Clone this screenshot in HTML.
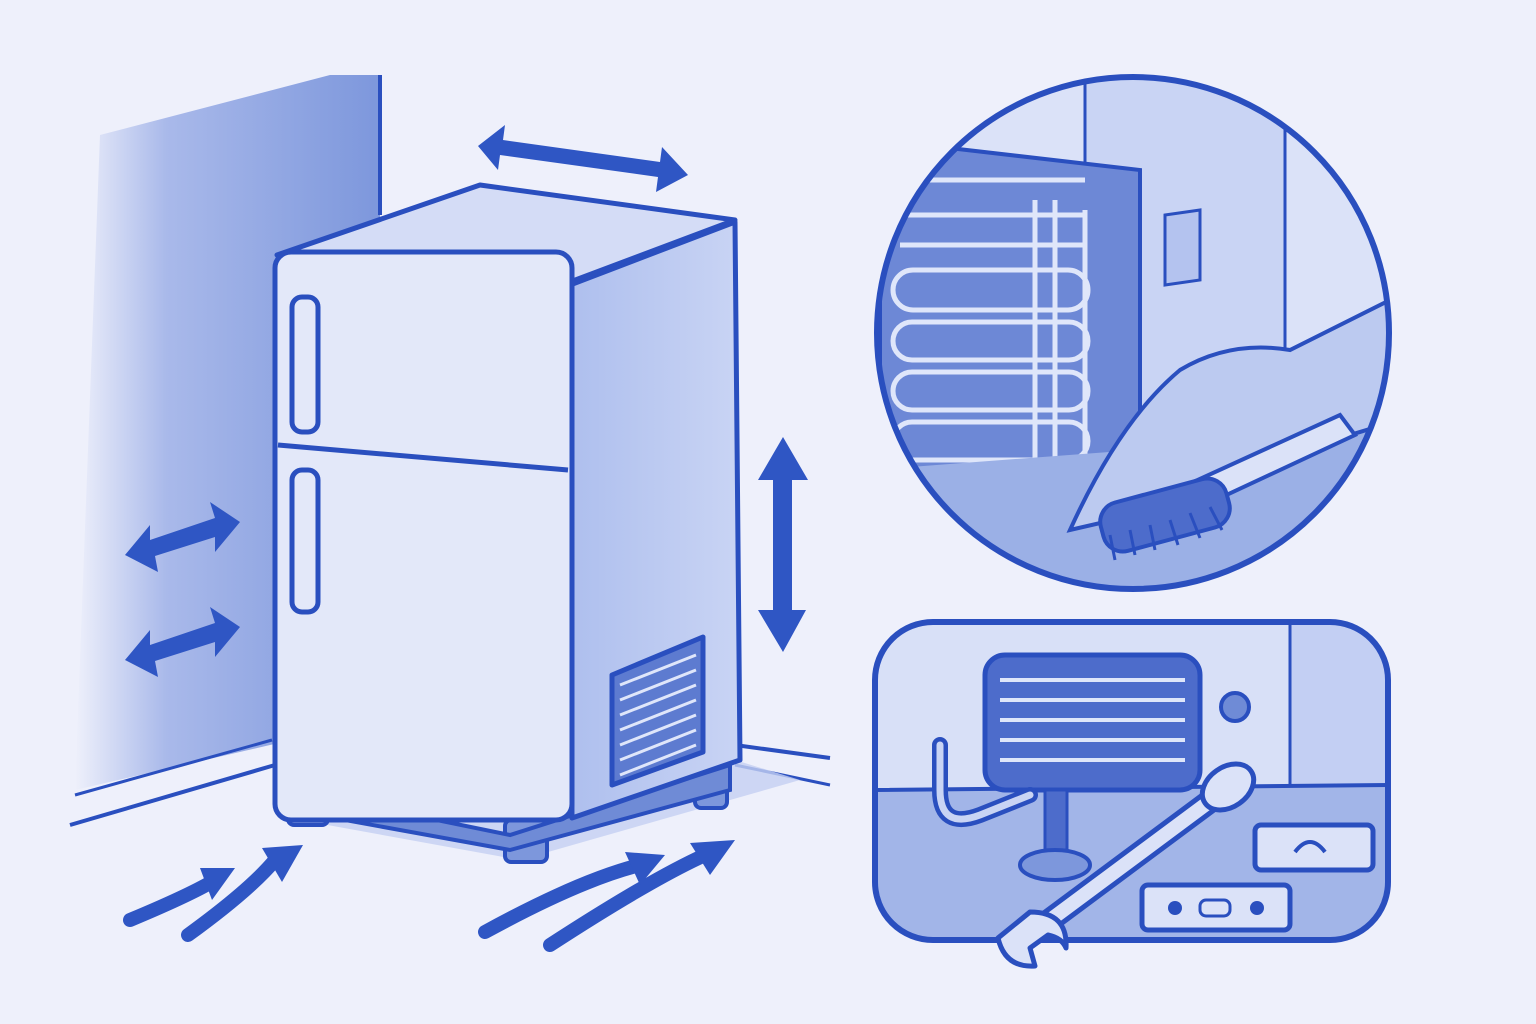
<!DOCTYPE html>
<html><head><meta charset="utf-8"><style>
html,body{margin:0;padding:0;background:#eef0fb;}
svg{display:block}
</style></head><body>
<svg width="1536" height="1024" viewBox="0 0 1536 1024" xmlns="http://www.w3.org/2000/svg">
<defs>
<linearGradient id="wall" x1="0" x2="1" y1="0" y2="0">
<stop offset="0" stop-color="#eef0fb"/><stop offset="0.3" stop-color="#a9b9ea"/><stop offset="1" stop-color="#7d97dc"/></linearGradient>
<linearGradient id="side" x1="0" x2="1"><stop offset="0" stop-color="#aebfee"/><stop offset="1" stop-color="#c9d4f4"/></linearGradient>
<clipPath id="circ"><circle cx="1133" cy="333" r="256"/></clipPath>
<clipPath id="panel"><rect x="875" y="622" width="513" height="318" rx="58"/></clipPath>
</defs>
<rect width="1536" height="1024" fill="#eef0fb"/>
<polygon points="100,135 330,75 380,75 380,720 270,745 75,790" fill="url(#wall)"/>
<line x1="380" y1="75" x2="380" y2="215" stroke="#2a4fbf" stroke-width="4"/>
<line x1="70" y1="825" x2="275" y2="765" stroke="#2a4fbf" stroke-width="4"/>
<line x1="75" y1="795" x2="272" y2="740" stroke="#2a4fbf" stroke-width="3"/>
<line x1="735" y1="745" x2="830" y2="758" stroke="#2a4fbf" stroke-width="4"/>
<line x1="735" y1="765" x2="830" y2="785" stroke="#2a4fbf" stroke-width="3"/>
<polygon points="300,820 520,860 800,780 735,760" fill="#c4cff2" opacity="0.8"/>
<g stroke="#2a4fbf" stroke-width="4" fill="#7d97dc">
<rect x="288" y="785" width="40" height="40" rx="6"/>
<rect x="505" y="820" width="42" height="42" rx="6"/>
<rect x="695" y="770" width="32" height="38" rx="6"/>
<polygon points="290,790 510,835 730,765 730,790 510,850 290,810" fill="#6f8bd6"/>
</g>
<g stroke="#2a4fbf" stroke-width="5" stroke-linejoin="round">
<polygon points="570,285 735,222 740,760 572,818" fill="url(#side)"/>
<polygon points="277,255 480,185 735,220 570,282" fill="#d4dcf6"/>
<rect x="275" y="252" width="297" height="568" rx="16" fill="#e3e8f9"/>
<line x1="278" y1="445" x2="568" y2="470" />
<rect x="292" y="297" width="26" height="135" rx="10" fill="#e3e8f9"/>
<rect x="292" y="470" width="26" height="142" rx="10" fill="#e3e8f9"/>
<polygon points="612,675 703,637 703,752 612,785" fill="#5d7bd0"/>
</g>
<g stroke="#dfe6fa" stroke-width="3">
<line x1="620" y1="685" x2="696" y2="655"/><line x1="620" y1="700" x2="696" y2="670"/>
<line x1="620" y1="715" x2="696" y2="685"/><line x1="620" y1="730" x2="696" y2="700"/>
<line x1="620" y1="745" x2="696" y2="715"/><line x1="620" y1="760" x2="696" y2="730"/>
<line x1="620" y1="775" x2="696" y2="745"/>
</g>
<g fill="#2f56c4">
<path d="M478,146 L505,125 L503,140 L660,162 L662,147 L688,175 L656,192 L658,177 L500,155 L498,170 Z"/>
<path d="M783,437 L808,480 L792,480 L792,610 L806,610 L783,652 L758,610 L773,610 L773,480 L758,480 Z"/>
<path d="M125,555 L150,525 L150,540 L215,518 L210,502 L240,522 L215,552 L215,537 L155,556 L158,572 Z"/>
<path d="M125,660 L150,630 L150,645 L215,623 L210,607 L240,627 L215,657 L215,642 L155,661 L158,677 Z"/>
</g>
<g fill="none" stroke="#2f56c4" stroke-width="14" stroke-linecap="round">
<path d="M130,920 Q190,895 215,880"/>
<path d="M188,935 Q250,890 275,860"/>
<path d="M485,932 Q580,880 640,865"/>
<path d="M550,945 Q650,880 705,855"/>
</g>
<g fill="#2f56c4">
<polygon points="200,868 235,868 212,900"/><polygon points="262,848 303,845 282,882"/>
<polygon points="625,852 665,855 640,885"/><polygon points="690,843 735,840 710,875"/>
</g>
<g clip-path="url(#circ)">
<rect x="870" y="70" width="530" height="530" fill="#dbe2f8"/>
<rect x="1085" y="70" width="200" height="450" fill="#c9d4f4" stroke="#2a4fbf" stroke-width="3"/>
<polygon points="880,140 1140,170 1140,500 880,470" fill="#6d88d6" stroke="#2a4fbf" stroke-width="4"/>
<g stroke="#dfe6fa" stroke-width="5" fill="none">
<path d="M900,180 H1085"/><path d="M900,215 H1085"/><path d="M900,245 H1085"/>
<rect x="893" y="270" width="195" height="40" rx="20"/><rect x="893" y="322" width="195" height="38" rx="19"/>
<rect x="893" y="372" width="195" height="38" rx="19"/><rect x="893" y="422" width="195" height="38" rx="19"/>
<path d="M1035,200 V580 M1055,200 V480 M1085,210 V470"/>
</g>
<polygon points="1165,215 1200,210 1200,280 1165,285" fill="#b4c3ef" stroke="#2a4fbf" stroke-width="3"/>
<polygon points="870,470 1400,430 1400,600 870,600" fill="#9bb0e6"/>
<path d="M1070,530 Q1120,420 1180,370 Q1230,340 1290,350 L1390,300 L1400,420 L1300,450 L1200,500 Z" fill="#bccaf0" stroke="#2a4fbf" stroke-width="4"/>
<path d="M1110,520 L1340,415 L1355,435 L1130,540 Z" fill="#dbe2f8" stroke="#2a4fbf" stroke-width="4"/>
<rect x="1100" y="490" width="130" height="50" rx="20" fill="#4d6ccb" stroke="#2a4fbf" stroke-width="4" transform="rotate(-15 1165 515)"/>
<g stroke="#2a4fbf" stroke-width="3"><path d="M1110,535 L1115,560 M1130,530 L1135,555 M1150,525 L1155,550 M1170,520 L1178,545 M1190,513 L1200,538 M1210,507 L1222,530"/></g>
</g>
<circle cx="1133" cy="333" r="256" fill="none" stroke="#2a4fbf" stroke-width="6"/>
<g clip-path="url(#panel)">
<rect x="875" y="622" width="513" height="318" fill="#d8e0f7"/>
<rect x="1290" y="622" width="100" height="170" fill="#c3cff3" stroke="#2a4fbf" stroke-width="3"/>
<polygon points="875,790 1390,785 1390,940 875,940" fill="#a2b5e8" stroke="#2a4fbf" stroke-width="4"/>
<rect x="985" y="655" width="215" height="135" rx="20" fill="#4d6ccb" stroke="#2a4fbf" stroke-width="5"/>
<g stroke="#dfe6fa" stroke-width="4"><path d="M1000,680 H1185 M1000,700 H1185 M1000,720 H1185 M1000,740 H1185 M1000,760 H1185"/></g>
<circle cx="1235" cy="707" r="14" fill="#6f8bd6" stroke="#2a4fbf" stroke-width="4"/>
<path d="M940,745 L940,790 Q940,830 980,815 L1030,795" fill="none" stroke="#2a4fbf" stroke-width="16" stroke-linecap="round"/>
<path d="M940,745 L940,790 Q940,830 980,815 L1030,795" fill="none" stroke="#c9d4f4" stroke-width="7" stroke-linecap="round"/>
<rect x="1045" y="790" width="22" height="60" fill="#4d6ccb" stroke="#2a4fbf" stroke-width="3"/>
<ellipse cx="1055" cy="865" rx="35" ry="15" fill="#7d97dc" stroke="#2a4fbf" stroke-width="4"/>
<rect x="1255" y="825" width="118" height="45" rx="6" fill="#dbe2f8" stroke="#2a4fbf" stroke-width="5"/>
<path d="M1295,852 Q1310,832 1325,852" fill="none" stroke="#2a4fbf" stroke-width="4"/>
<rect x="1142" y="885" width="148" height="45" rx="6" fill="#dbe2f8" stroke="#2a4fbf" stroke-width="5"/>
<circle cx="1175" cy="908" r="7" fill="#2a4fbf"/><circle cx="1257" cy="908" r="7" fill="#2a4fbf"/>
<rect x="1200" y="900" width="30" height="16" rx="6" fill="none" stroke="#2a4fbf" stroke-width="3"/>
</g>
<rect x="875" y="622" width="513" height="318" rx="58" fill="none" stroke="#2a4fbf" stroke-width="6"/>
<path d="M1030,935 L1225,790" stroke="#2a4fbf" stroke-width="24" stroke-linecap="round"/>
<path d="M1030,935 L1225,790" stroke="#dbe2f8" stroke-width="14" stroke-linecap="round"/>
<ellipse cx="1228" cy="787" rx="28" ry="20" fill="#dbe2f8" stroke="#2a4fbf" stroke-width="5" transform="rotate(-35 1228 787)"/>
<path d="M998,938 Q1005,968 1035,966 L1030,948 L1048,935 Q1062,938 1066,948 Q1068,912 1030,912 Z" fill="#dbe2f8" stroke="#2a4fbf" stroke-width="5" stroke-linejoin="round"/>
</svg>
</body></html>
